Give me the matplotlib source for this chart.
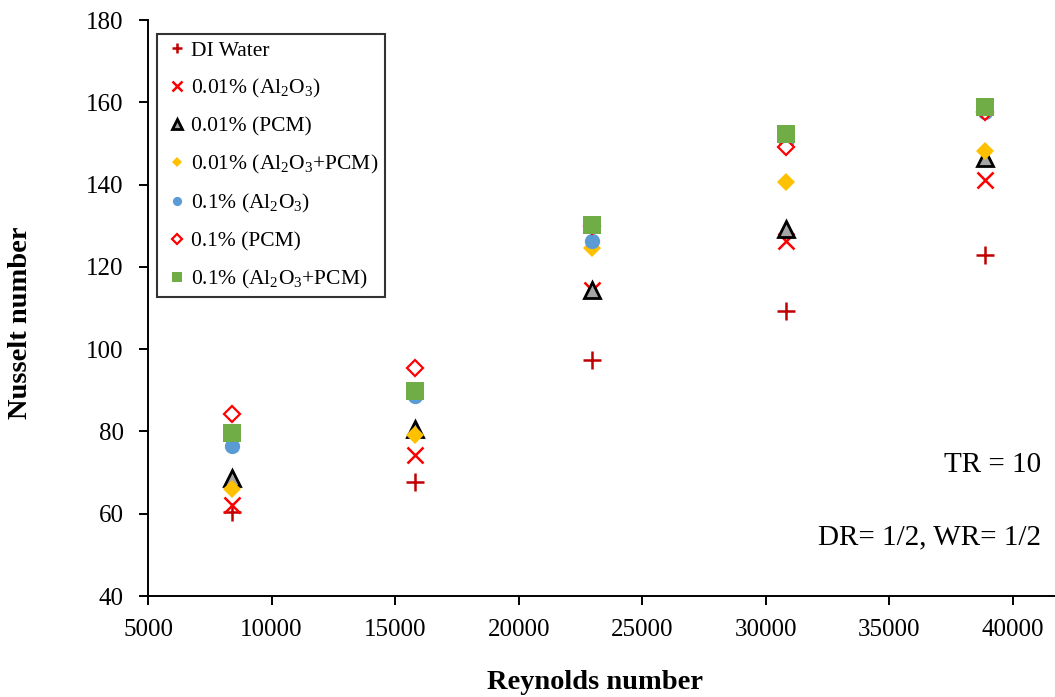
import matplotlib
matplotlib.use("Agg")
import matplotlib.pyplot as plt

plt.rcParams['font.family'] = ['Liberation Serif', 'DejaVu Serif']
plt.rcParams['mathtext.fontset'] = 'custom'
plt.rcParams['mathtext.rm'] = 'Liberation Serif'
plt.rcParams['mathtext.it'] = 'Liberation Serif:italic'
plt.rcParams['mathtext.bf'] = 'Liberation Serif:bold'

reynolds = [8400, 15800, 22950, 30800, 38850]
di_water = [60.4, 67.7, 97.4, 109.3, 122.9]
al_001 = [62.1, 74.3, 114.4, 126.3, 141.1]
pcm_001 = [68.7, 80.6, 114.4, 129.2, 146.5]
alpcm_001 = [66.0, 79.1, 124.6, 140.6, 148.2]
al_01 = [76.5, 88.6, 126.3, 150.0, 157.6]
pcm_01 = [84.2, 95.4, 130.0, 149.1, 157.6]
alpcm_01 = [79.6, 89.8, 130.2, 152.3, 158.9]

labels = ['DI Water', r'0.01% (Al$_2$O$_3$)', '0.01% (PCM)', r'0.01% (Al$_2$O$_3$+PCM)',
          r'0.1% (Al$_2$O$_3$)', '0.1% (PCM)', r'0.1% (Al$_2$O$_3$+PCM)']

fig = plt.figure(figsize=(10.55, 6.97), dpi=100)
ax = fig.add_axes([0.1403, 0.1449, 0.8597, 0.8264])

ax.plot(reynolds, di_water, linestyle='none', marker='+', ms=13, mew=1.8, color='#C00000', label=labels[0])
ax.plot(reynolds, al_001, linestyle='none', marker='x', ms=12, mew=1.8, color='#FF0000', label=labels[1])
ax.plot(reynolds, pcm_001, linestyle='none', marker='^', ms=11, mew=2, mfc='#A5A5A5', mec='black', label=labels[2])
ax.plot(reynolds, alpcm_001, linestyle='none', marker='D', ms=9, mew=0, color='#FFC000', label=labels[3])
ax.plot(reynolds, al_01, linestyle='none', marker='o', ms=11, mew=0, color='#5B9BD5', label=labels[4])
ax.plot(reynolds, pcm_01, linestyle='none', marker='D', ms=8, mew=1.6, mfc='white', mec='#FF0000', label=labels[5])
ax.plot(reynolds, alpcm_01, linestyle='none', marker='s', ms=13, mew=0, color='#70AD47', label=labels[6])

ax.set_xlim(5000, 41700)
ax.set_ylim(40, 180)
ax.set_xticks(range(5000, 40001, 5000))
ax.set_yticks(range(40, 181, 20))
ax.spines['top'].set_visible(False)
ax.spines['right'].set_visible(False)
ax.spines['left'].set_linewidth(1.4)
ax.spines['bottom'].set_linewidth(1.4)
ax.tick_params(direction='out', length=6.5, width=1.4, labelsize=18)
ax.tick_params(axis='x', pad=10)
ax.tick_params(axis='y', pad=11)

ax.set_xlabel('Reynolds number', fontsize=20.5, fontweight='bold')
ax.xaxis.set_label_coords(0.493, -0.128)
ax.set_ylabel('Nusselt number', fontsize=20.5, fontweight='bold')
ax.yaxis.set_label_coords(-0.1268, 0.474)

leg = ax.legend(loc='upper left', bbox_to_anchor=(0.0099, 0.9757), borderaxespad=0, fontsize=15.5,
                frameon=True, fancybox=False, edgecolor='black', handletextpad=0.0, handlelength=1.3,
                labelspacing=0.76, borderpad=0.3, markerscale=0.6)
leg.get_frame().set_linewidth(1.5)

ax.text(0.985, 0.227, 'TR = 10', transform=ax.transAxes, ha='right', va='center', fontsize=21)
ax.text(0.985, 0.1025, 'DR= 1/2, WR= 1/2', transform=ax.transAxes, ha='right', va='center', fontsize=21)

fig.savefig('out.png', dpi=100)
